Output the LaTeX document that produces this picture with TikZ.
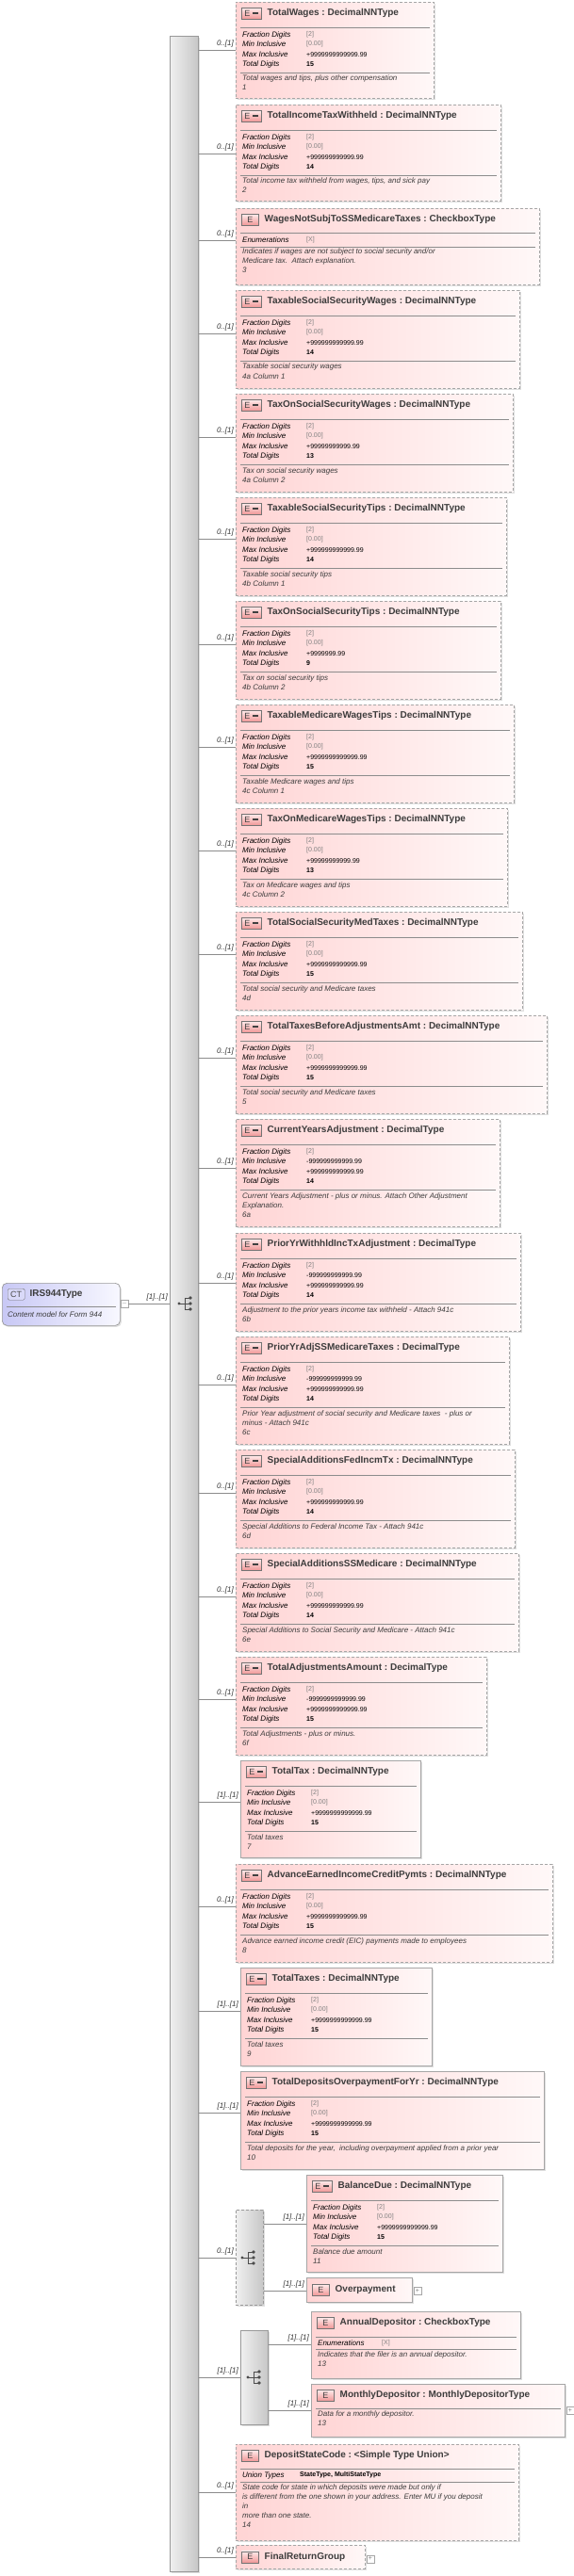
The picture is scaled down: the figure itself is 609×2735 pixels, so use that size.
\documentclass[tikz,border=0pt]{standalone}
\usepackage{fontspec}
\setmainfont{Liberation Sans}
\usetikzlibrary{shadows}
\definecolor{pinkA}{RGB}{255,212,212}
\definecolor{pinkB}{RGB}{255,248,248}
\definecolor{icoA}{RGB}{240,150,150}
\definecolor{icoB}{RGB}{255,235,235}
\definecolor{lavA}{RGB}{200,200,245}
\definecolor{lavB}{RGB}{248,248,255}
\definecolor{txt}{RGB}{60,60,60}
\tikzset{
 ebox/.style={draw=black!35, line width=0.7pt, left color=pinkA, right color=pinkB, inner sep=0pt,
   drop shadow={shadow xshift=1.5pt, shadow yshift=-1.5pt, fill=black!25, opacity=.5}},
 opt/.style={dash pattern=on 3pt off 2pt},
 req/.style={solid},
 grp/.style={draw=black!40, line width=0.7pt, left color=black!6, right color=black!22, inner sep=0pt,
   drop shadow={shadow xshift=1.5pt, shadow yshift=-1.5pt, fill=black!25, opacity=.5}},
 eicon/.style={draw=black!55, line width=0.5pt, top color=icoB, bottom color=icoA, minimum height=12pt, inner sep=0pt, font=\fontsize{9}{9}\selectfont, text=black!75},
 etitle/.style={font=\fontsize{10}{12}\selectfont\bfseries, text=txt, inner sep=0pt},
 flab/.style={font=\fontsize{8}{10}\selectfont\itshape, text=black, inner sep=0pt},
 fval/.style={font=\fontsize{7}{9}\selectfont, inner sep=0pt},
 doc/.style={font=\fontsize{8}{10}\selectfont\itshape, text=txt, align=left, inner sep=0pt},
 sepl/.style={draw=black!45, line width=0.6pt},
 conn/.style={draw=black!45, line width=0.6pt},
 card/.style={font=\fontsize{8}{10}\selectfont\itshape, text=black!80, inner sep=0pt},
 plusbox/.style={draw=black!35, fill=white, minimum size=8pt, inner sep=0pt, font=\fontsize{7}{7}\selectfont, text=black!50},
}
\newcommand\gv[1]{\textcolor{black!50}{#1}}
\newcommand\Eeq{\hspace*{3pt}E\hspace{3pt}\rule[2pt]{6pt}{2pt}\hspace*{3pt}}
\newcommand\Eonly{\hspace*{6pt}E\hspace*{6pt}}
% name, left, top, right, bottom, style, title, icon
\newcommand\ebox[8]{%
 \node[ebox,#6,anchor=north west,minimum width=#4pt-#2pt,minimum height=#5pt-#3pt] (#1) at (#2,#3) {};
 \node[eicon,anchor=north west] (#1-i) at ([shift={(6,6)}]#1.north west) {#8};
 \node[etitle,anchor=west] (#1-t) at ([shift={(6,0)}]#1-i.east) {#7};
}
\newcommand\sepat[2]{\draw[sepl] ([shift={(5,#2)}]#1.north west) -- ([shift={(-5,#2)}]#1.north east);}
\newcommand\frow[4]{%
 \node[flab,anchor=west] at ([shift={(7,#2)}]#1.north west) {#3};
 \node[fval,anchor=west] at ([shift={(75,#2)}]#1.north west) {#4};
}
\newcommand\numf[4]{%
 \sepat{#1}{27}
 \frow{#1}{35}{Fraction Digits}{\gv{[2]}}
 \frow{#1}{45}{Min Inclusive}{#2}
 \frow{#1}{56}{Max Inclusive}{#3}
 \frow{#1}{66}{Total Digits}{\textbf{#4}}
 \sepat{#1}{75}
}
\newcommand\docat[3]{\node[doc,anchor=north west] at ([shift={(7,#2)}]#1.north west) {#3};}
% connector from node #1 (east side) to box #2 at y #3 with label #4
\newcommand\link[4]{%
 \coordinate (#2-in) at (#2.west |- 0,#3);
 \draw[conn] (#1.east |- #2-in) -- (#2-in);
 \node[card,anchor=south east] at ([shift={(-2,-3)}]#2-in) {#4};
}
\newcommand\seqicon[2]{%
 \fill[black!70] (#1-9,#2) circle (1.7);
 \draw[black!70,line width=0.8pt] (#1-9,#2) -- (#1-3,#2) (#1-3,#2-6) -- (#1-3,#2+6)
   (#1-3,#2-6) -- (#1+2,#2-6) (#1-3,#2) -- (#1+2,#2) (#1-3,#2+6) -- (#1+2,#2+6);
 \fill[black!70] (#1+3,#2-6) circle (1.8) (#1+3,#2) circle (1.8) (#1+3,#2+6) circle (1.8);
}
\begin{document}
\begin{tikzpicture}[x=1pt,y=-1pt]
\useasboundingbox (0,0) rectangle (609,2735);
% main bar
\node[grp,anchor=north west,minimum width=30pt,minimum height=2692pt] (bar) at (180,38) {};
% root
\node[draw=black!40,line width=0.7pt,rounded corners=5pt,left color=lavA,right color=lavB,anchor=north west,minimum width=125pt,minimum height=45pt,inner sep=0pt,
 drop shadow={shadow xshift=1.5pt, shadow yshift=-1.5pt, fill=black!25, opacity=.5}] (root) at (2,1362) {};
\node[draw=black!55,fill=lavA!70,rounded corners=1.5pt,anchor=north west,minimum width=18pt,minimum height=12pt,inner sep=0pt,font=\fontsize{9}{9}\selectfont,text=black!70] (root-i) at ([shift={(6,6)}]root.north west) {CT};
\node[etitle,anchor=west] at ([shift={(5,0)}]root-i.east) {IRS944Type};
\draw[sepl] ([shift={(5,25)}]root.north west) -- ([shift={(-5,25)}]root.north east);
\node[doc,anchor=west] at ([shift={(6,34)}]root.north west) {Content model for Form 944};
\node[plusbox,anchor=west] (rootm) at (root.east |- 0,1384) {$-$};
\coordinate (bar-in) at (bar.west |- 0,1384);
\draw[conn] (rootm.east) -- (bar-in);
\node[card,anchor=south east] at ([shift={(-2,-3)}]bar-in) {[1]..[1]};
\seqicon{199}{1384}

\ebox{b1}{250}{2}{460}{104}{opt}{TotalWages\ :\ DecimalNNType}{\Eeq}
\numf{b1}{\gv{[0.00]}}{+9999999999999.99}{15}
\docat{b1}{78}{Total wages and tips, plus other compensation\\1}
\link{bar}{b1}{53}{0..[1]}

\ebox{b2}{250}{111}{531}{213}{opt}{TotalIncomeTaxWithheld\ :\ DecimalNNType}{\Eeq}
\numf{b2}{\gv{[0.00]}}{+999999999999.99}{14}
\docat{b2}{78}{Total income tax withheld from wages, tips, and sick pay\\2}
\link{bar}{b2}{163}{0..[1]}

\ebox{b3}{250}{221}{572}{302}{opt}{WagesNotSubjToSSMedicareTaxes\ :\ CheckboxType}{\Eonly}
\sepat{b3}{26}
\frow{b3}{34}{Enumerations}{\gv{[X]}}
\sepat{b3}{41}
\docat{b3}{43}{Indicates if wages are not subject to social security and/or\\Medicare tax.\ \ Attach explanation.\\3}
\link{bar}{b3}{255}{0..[1]}

\ebox{b4}{250}{308}{551}{412}{opt}{TaxableSocialSecurityWages\ :\ DecimalNNType}{\Eeq}
\numf{b4}{\gv{[0.00]}}{+999999999999.99}{14}
\docat{b4}{78}{Taxable social security wages\\4a Column 1}
\link{bar}{b4}{354}{0..[1]}

\ebox{b5}{250}{418}{544}{522}{opt}{TaxOnSocialSecurityWages\ :\ DecimalNNType}{\Eeq}
\numf{b5}{\gv{[0.00]}}{+99999999999.99}{13}
\docat{b5}{78}{Tax on social security wages\\4a Column 2}
\link{bar}{b5}{464}{0..[1]}

\ebox{b6}{250}{528}{537}{632}{opt}{TaxableSocialSecurityTips\ :\ DecimalNNType}{\Eeq}
\numf{b6}{\gv{[0.00]}}{+999999999999.99}{14}
\docat{b6}{78}{Taxable social security tips\\4b Column 1}
\link{bar}{b6}{572}{0..[1]}

\ebox{b7}{250}{638}{531}{742}{opt}{TaxOnSocialSecurityTips\ :\ DecimalNNType}{\Eeq}
\numf{b7}{\gv{[0.00]}}{+9999999.99}{9}
\docat{b7}{78}{Tax on social security tips\\4b Column 2}
\link{bar}{b7}{684}{0..[1]}

\ebox{b8}{250}{748}{545}{852}{opt}{TaxableMedicareWagesTips\ :\ DecimalNNType}{\Eeq}
\numf{b8}{\gv{[0.00]}}{+9999999999999.99}{15}
\docat{b8}{78}{Taxable Medicare wages and tips\\4c Column 1}
\link{bar}{b8}{793}{0..[1]}

\ebox{b9}{250}{858}{538}{962}{opt}{TaxOnMedicareWagesTips\ :\ DecimalNNType}{\Eeq}
\numf{b9}{\gv{[0.00]}}{+99999999999.99}{13}
\docat{b9}{78}{Tax on Medicare wages and tips\\4c Column 2}
\link{bar}{b9}{903}{0..[1]}

\ebox{b10}{250}{968}{554}{1072}{opt}{TotalSocialSecurityMedTaxes\ :\ DecimalNNType}{\Eeq}
\numf{b10}{\gv{[0.00]}}{+9999999999999.99}{15}
\docat{b10}{78}{Total social security and Medicare taxes\\4d}
\link{bar}{b10}{1013}{0..[1]}

\ebox{b11}{250}{1078}{580}{1182}{opt}{TotalTaxesBeforeAdjustmentsAmt\ :\ DecimalNNType}{\Eeq}
\numf{b11}{\gv{[0.00]}}{+9999999999999.99}{15}
\docat{b11}{78}{Total social security and Medicare taxes\\5}
\link{bar}{b11}{1123}{0..[1]}

\ebox{b12}{250}{1188}{530}{1302}{opt}{CurrentYearsAdjustment\ :\ DecimalType}{\Eeq}
\numf{b12}{-999999999999.99}{+999999999999.99}{14}
\docat{b12}{78}{Current Years Adjustment - plus or minus. Attach Other Adjustment\\Explanation.\\6a}
\link{bar}{b12}{1240}{0..[1]}

\ebox{b13}{250}{1309}{552}{1413}{opt}{PriorYrWithhldIncTxAdjustment\ :\ DecimalType}{\Eeq}
\numf{b13}{-999999999999.99}{+999999999999.99}{14}
\docat{b13}{78}{Adjustment to the prior years income tax withheld - Attach 941c\\6b}
\link{bar}{b13}{1362}{0..[1]}

\ebox{b14}{250}{1419}{540}{1533}{opt}{PriorYrAdjSSMedicareTaxes\ :\ DecimalType}{\Eeq}
\numf{b14}{-999999999999.99}{+999999999999.99}{14}
\docat{b14}{78}{Prior Year adjustment of social security and Medicare taxes\ \ - plus or\\minus - Attach 941c\\6c}
\link{bar}{b14}{1470}{0..[1]}

\ebox{b15}{250}{1539}{546}{1643}{opt}{SpecialAdditionsFedIncmTx\ :\ DecimalNNType}{\Eeq}
\numf{b15}{\gv{[0.00]}}{+999999999999.99}{14}
\docat{b15}{78}{Special Additions to Federal Income Tax - Attach 941c\\6d}
\link{bar}{b15}{1585}{0..[1]}

\ebox{b16}{250}{1649}{550}{1753}{opt}{SpecialAdditionsSSMedicare\ :\ DecimalNNType}{\Eeq}
\numf{b16}{\gv{[0.00]}}{+999999999999.99}{14}
\docat{b16}{78}{Special Additions to Social Security and Medicare - Attach 941c\\6e}
\link{bar}{b16}{1695}{0..[1]}

\ebox{b17}{250}{1759}{516}{1863}{opt}{TotalAdjustmentsAmount\ :\ DecimalType}{\Eeq}
\numf{b17}{-9999999999999.99}{+9999999999999.99}{15}
\docat{b17}{78}{Total Adjustments - plus or minus.\\6f}
\link{bar}{b17}{1804}{0..[1]}

\ebox{b18}{255}{1869}{446}{1972}{req}{TotalTax\ :\ DecimalNNType}{\Eeq}
\numf{b18}{\gv{[0.00]}}{+9999999999999.99}{15}
\docat{b18}{78}{Total taxes\\7}
\link{bar}{b18}{1913}{[1]..[1]}

\ebox{b19}{250}{1979}{586}{2083}{opt}{AdvanceEarnedIncomeCreditPymts\ :\ DecimalNNType}{\Eeq}
\numf{b19}{\gv{[0.00]}}{+9999999999999.99}{15}
\docat{b19}{78}{Advance earned income credit (EIC) payments made to employees\\8}
\link{bar}{b19}{2024}{0..[1]}

\ebox{b20}{255}{2089}{458}{2193}{req}{TotalTaxes\ :\ DecimalNNType}{\Eeq}
\numf{b20}{\gv{[0.00]}}{+9999999999999.99}{15}
\docat{b20}{78}{Total taxes\\9}
\link{bar}{b20}{2135}{[1]..[1]}

\ebox{b21}{255}{2199}{577}{2303}{req}{TotalDepositsOverpaymentForYr\ :\ DecimalNNType}{\Eeq}
\numf{b21}{\gv{[0.00]}}{+9999999999999.99}{15}
\docat{b21}{78}{Total deposits for the year,\ \ including overpayment applied from a prior year\\10}
\link{bar}{b21}{2243}{[1]..[1]}

% choice group
\node[grp,opt,anchor=north west,minimum width=29pt,minimum height=101pt] (ch) at (250,2346) {};
\link{bar}{ch}{2397}{0..[1]}
\seqicon{266}{2397}

\ebox{b22}{325}{2309}{533}{2412}{req}{BalanceDue\ :\ DecimalNNType}{\Eeq}
\numf{b22}{\gv{[0.00]}}{+9999999999999.99}{15}
\docat{b22}{78}{Balance due amount\\11}
\link{ch}{b22}{2361}{[1]..[1]}

\node[ebox,req,anchor=north west,minimum width=112pt,minimum height=26pt] (b23) at (325,2418) {};
\node[eicon,anchor=west] (b23-i) at ([shift={(6,0)}]b23.west) {\Eonly};
\node[etitle,anchor=west] at ([shift={(6,0)}]b23-i.east) {Overpayment};
\node[plusbox,anchor=west] at ([shift={(1,1)}]b23.east) {+};
\link{ch}{b23}{2432}{[1]..[1]}

% sequence group
\node[grp,anchor=north west,minimum width=29pt,minimum height=100pt] (sq) at (255,2474) {};
\link{bar}{sq}{2524}{[1]..[1]}
\seqicon{272}{2524}

\ebox{b24}{330}{2454}{552}{2525}{req}{AnnualDepositor\ :\ CheckboxType}{\Eonly}
\sepat{b24}{27}
\frow{b24}{34}{Enumerations}{\gv{[X]}}
\sepat{b24}{40}
\docat{b24}{42}{Indicates that the filer is an annual depositor.\\13}
\link{sq}{b24}{2489}{[1]..[1]}

\ebox{b25}{330}{2531}{599}{2587}{req}{MonthlyDepositor\ :\ MonthlyDepositorType}{\Eonly}
\sepat{b25}{26}
\docat{b25}{28}{Data for a monthly depositor.\\13}
\node[plusbox,anchor=west] at ([shift={(1,0)}]b25.east |- 0,2559) {+};
\link{sq}{b25}{2559}{[1]..[1]}

\ebox{b26}{250}{2595}{550}{2697}{opt}{DepositStateCode\ :\ <Simple Type Union>}{\Eonly}
\sepat{b26}{26}
\node[flab,anchor=west] at ([shift={(7,33)}]b26.north west) {Union Types};
\node[fval,anchor=west] at ([shift={(68,33)}]b26.north west) {\textbf{StateType, MultiStateType}};
\sepat{b26}{40}
\docat{b26}{42}{State code for state in which deposits were made but only if\\is different from the one shown in your address. Enter MU if you deposit\\in\\more than one state.\\14}
\link{bar}{b26}{2646}{0..[1]}

\node[ebox,opt,anchor=north west,minimum width=137pt,minimum height=25pt] (b27) at (250,2702) {};
\node[eicon,anchor=west] (b27-i) at ([shift={(6,0)}]b27.west) {\Eonly};
\node[etitle,anchor=west] at ([shift={(6,0)}]b27-i.east) {FinalReturnGroup};
\node[plusbox,anchor=west] at ([shift={(1,2)}]b27.east) {+};
\link{bar}{b27}{2715}{0..[1]}
\end{tikzpicture}
\end{document}
